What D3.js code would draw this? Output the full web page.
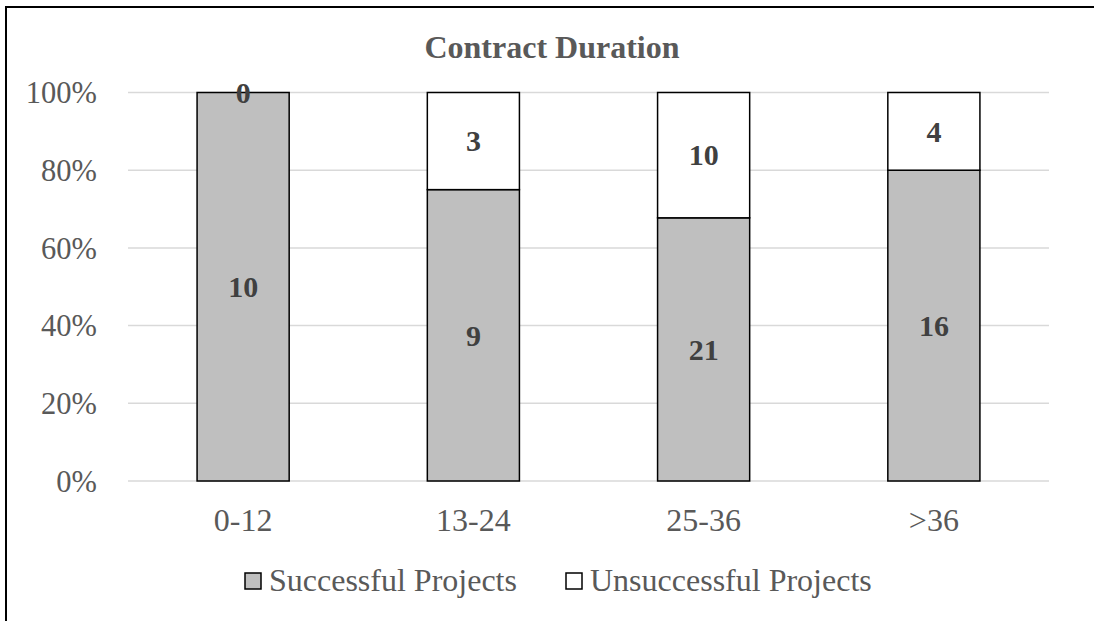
<!DOCTYPE html>
<html>
<head>
<meta charset="utf-8">
<script src="https://cdn.jsdelivr.net/npm/d3@7/dist/d3.min.js"></script>
<style>
  html, body { margin: 0; padding: 0; background: #fff; overflow: hidden; }
  svg { display: block; }
  text { font-family: "Liberation Serif", "Times New Roman", serif; }
</style>
</head>
<body>
<svg id="chart" width="1094" height="621"></svg>
<script>
const categories = ["0-12", "13-24", "25-36", ">36"];
const successful = [10, 9, 21, 16];
const unsuccessful = [0, 3, 10, 4];
const seriesNames = ["Successful Projects", "Unsuccessful Projects"];
const yTicks = [0, 0.2, 0.4, 0.6, 0.8, 1.0];
const title = "Contract Duration";

const svg = d3.select("#chart");
const W = 1094, H = 621;
const m = { left: 128, right: 1049, top: 92.5, bottom: 481 };

// outer frame (cropped at right & bottom)
svg.append("rect")
  .attr("x", 6).attr("y", 7)
  .attr("width", W + 20).attr("height", H + 20)
  .attr("fill", "#fff").attr("stroke", "#000").attr("stroke-width", 2);

const x = d3.scaleBand().domain(categories).range([m.left, m.right]).paddingInner(0.6).paddingOuter(0.3);
const y = d3.scaleLinear().domain([0, 1]).range([m.bottom, m.top]);

// gridlines
svg.append("g").selectAll("line").data(yTicks).join("line")
  .attr("x1", m.left).attr("x2", m.right)
  .attr("y1", d => y(d)).attr("y2", d => y(d))
  .attr("stroke", "#d9d9d9").attr("stroke-width", 1.5);

// y axis labels
const yAxis = d3.axisLeft(y).tickValues(yTicks).tickFormat(d3.format(".0%")).tickSize(0).tickPadding(0);
const gy = svg.append("g").attr("transform", `translate(97,0)`).call(yAxis);
gy.select(".domain").remove();
gy.attr("font-family", null).attr("font-size", null);
gy.selectAll("text")
  .attr("fill", "#595959").attr("font-size", 30.5)
  .attr("dy", "0.34em");

// x axis labels
const xAxis = d3.axisBottom(x).tickSize(0).tickPadding(0);
const gx = svg.append("g").attr("transform", `translate(0,531)`).call(xAxis);
gx.select(".domain").remove();
gx.attr("font-family", null).attr("font-size", null);
gx.selectAll("text")
  .attr("fill", "#595959").attr("font-size", 32)
  .attr("dy", 0);

// stacked data
const rows = categories.map((c, i) => {
  const tot = successful[i] + unsuccessful[i];
  return { cat: c, s: successful[i], u: unsuccessful[i], sp: successful[i] / tot, up: unsuccessful[i] / tot };
});

const bars = svg.append("g");
bars.selectAll("rect.s").data(rows).join("rect").attr("class", "s")
  .attr("x", d => x(d.cat)).attr("width", x.bandwidth())
  .attr("y", d => y(d.sp)).attr("height", d => y(0) - y(d.sp))
  .attr("fill", "#bfbfbf").attr("stroke", "#000").attr("stroke-width", 1.5);
bars.selectAll("rect.u").data(rows.filter(d => d.u > 0)).join("rect").attr("class", "u")
  .attr("x", d => x(d.cat)).attr("width", x.bandwidth())
  .attr("y", d => y(1)).attr("height", d => y(d.sp) - y(1))
  .attr("fill", "#ffffff").attr("stroke", "#000").attr("stroke-width", 1.5);

// data labels
const lab = svg.append("g").attr("font-weight", "bold").attr("font-size", 30).attr("fill", "#404040").attr("text-anchor", "middle");
lab.selectAll("text.s").data(rows).join("text")
  .attr("x", d => x(d.cat) + x.bandwidth() / 2)
  .attr("y", d => y(d.sp / 2)).attr("dy", "0.34em")
  .text(d => d.s);
lab.selectAll("text.u").data(rows).join("text")
  .attr("x", d => x(d.cat) + x.bandwidth() / 2)
  .attr("y", d => y(d.sp + d.up / 2)).attr("dy", "0.34em")
  .text(d => d.u);

// title
svg.append("text").attr("x", 552).attr("y", 58).attr("text-anchor", "middle")
  .attr("font-size", 32).attr("font-weight", "bold").attr("fill", "#595959").text(title);

// legend
const legFills = ["#bfbfbf", "#ffffff"];
const legX = [245, 566];
const lg = svg.append("g");
seriesNames.forEach((n, i) => {
  lg.append("rect").attr("x", legX[i]).attr("y", 573).attr("width", 16).attr("height", 16)
    .attr("fill", legFills[i]).attr("stroke", "#000").attr("stroke-width", 1.5);
  lg.append("text").attr("x", legX[i] + 24).attr("y", 591)
    .attr("font-size", 32).attr("fill", "#595959").text(n);
});
</script>
</body>
</html>
